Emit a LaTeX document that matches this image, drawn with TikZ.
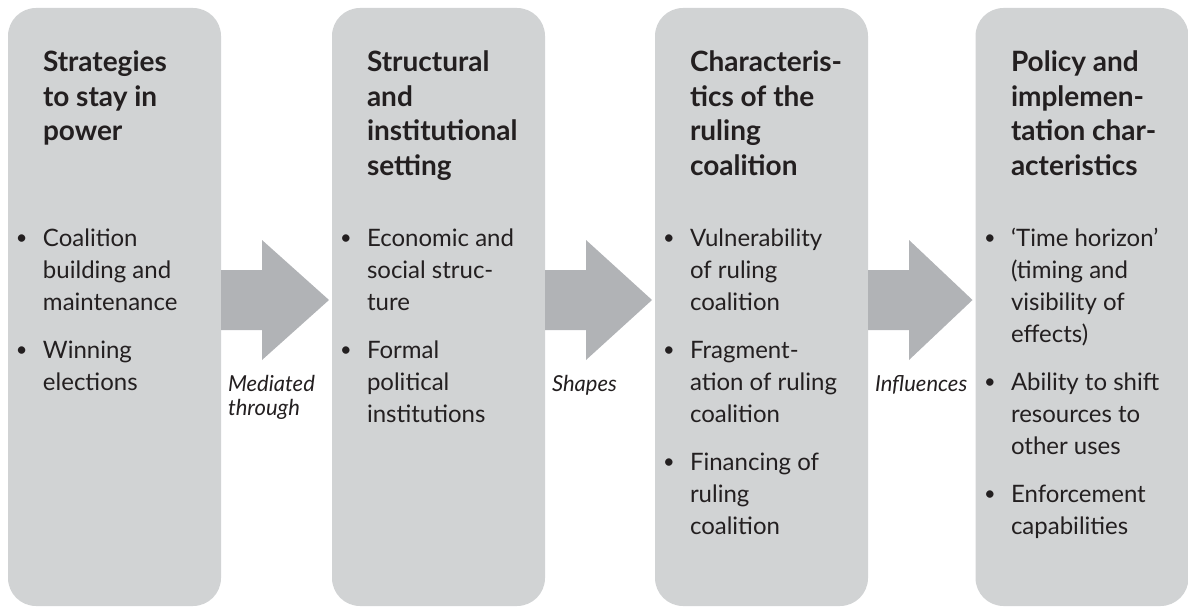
\documentclass[tikz,border=0pt]{standalone}
\usepackage{fontspec}
\setmainfont{Lato}
\usetikzlibrary{calc}
\definecolor{boxgray}{HTML}{D1D3D4}
\definecolor{arrowgray}{HTML}{B1B3B6}
\definecolor{ink}{HTML}{231F20}
\newcommand\bodylines[1]{\parbox[t]{165pt}{\raggedright\fontsize{24}{32}\selectfont #1}}
\newcommand\titlelines[1]{\parbox[t]{178pt}{\raggedright\fontsize{28}{34.5}\selectfont\bfseries #1}}
\newcommand\labellines[1]{\parbox[t]{110pt}{\raggedright\fontsize{22}{24}\selectfont\itshape #1}}
\newcommand\bulletitem[1]{\makebox[27pt][l]{\raisebox{1.5pt}{\fontsize{20}{32}\selectfont •}}\bodylines{#1}}
\newcommand\flowarrow[2]{%
  \fill[arrowbody] ($(#1.east|-mid)+(0,-30)$) -- ($(#1.east|-mid)+(41,-30)$)
    -- ($(#1.east|-mid)+(41,-60)$) -- ($(#2.west|-mid)+(-3,0)$)
    -- ($(#1.east|-mid)+(41,60)$) -- ($(#1.east|-mid)+(41,30)$)
    -- ($(#1.east|-mid)+(0,30)$) -- cycle;}
\begin{document}
\begin{tikzpicture}[x=1pt,y=-1pt,
  every node/.style={inner sep=0pt,outer sep=0pt,text=ink},
  panel/.style={fill=boxgray,rounded corners=28pt,minimum width=213pt,minimum height=598pt},
  txt/.style={anchor=base west},
  arrowbody/.style={fill=arrowgray}]
\useasboundingbox (0,0) rectangle (1188,607);
\coordinate (mid) at (0,300);
% panels
\node[panel] (b1) at (114.5,307) {};
\node[panel] (b2) at (438.5,307) {};
\node[panel] (b3) at (761.5,307) {};
\node[panel] (b4) at (1082,307) {};
% arrows
\flowarrow{b1}{b2}
\flowarrow{b2}{b3}
\flowarrow{b3}{b4}
% titles
\node[txt] (t1) at (43,72) {\titlelines{Strategies\\to stay in\\power}};
\node[txt] (t2) at (367,72) {\titlelines{Structural\\and\\institutional\\setting}};
\node[txt] (t3) at (690,72) {\titlelines{Characteris-\\tics of the\\ruling\\coalition}};
\node[txt] (t4) at (1011,72) {\titlelines{Policy and\\implemen-\\tation char-\\acteristics}};
% box 1 items
\node[txt] (i11) at (16,246) {\bulletitem{Coalition\\building and\\maintenance}};
\node[txt] (i12) at (16,358) {\bulletitem{Winning\\elections}};
% box 2 items
\node[txt] (i21) at (340,246) {\bulletitem{Economic and\\social struc-\\ture}};
\node[txt] (i22) at (340,358) {\bulletitem{Formal\\political\\institutions}};
% box 3 items
\node[txt] (i31) at (663,246) {\bulletitem{Vulnerability\\of ruling\\coalition}};
\node[txt] (i32) at (663,358) {\bulletitem{Fragment-\\ation of ruling\\coalition}};
\node[txt] (i33) at (663,470) {\bulletitem{Financing of\\ruling\\coalition}};
% box 4 items
\node[txt] (i41) at (984,246) {\bulletitem{‘Time horizon’\\(timing and\\visibility of\\effects)}};
\node[txt] (i42) at (984,390) {\bulletitem{Ability to shift\\resources to\\other uses}};
\node[txt] (i43) at (984,502) {\bulletitem{Enforcement\\capabilities}};
% arrow labels
\node[txt] (l1) at (228,391) {\labellines{Mediated\\through}};
\node[txt] (l2) at (552,391) {\labellines{Shapes}};
\node[txt] (l3) at (875,391) {\labellines{Influences}};
\end{tikzpicture}
\end{document}
